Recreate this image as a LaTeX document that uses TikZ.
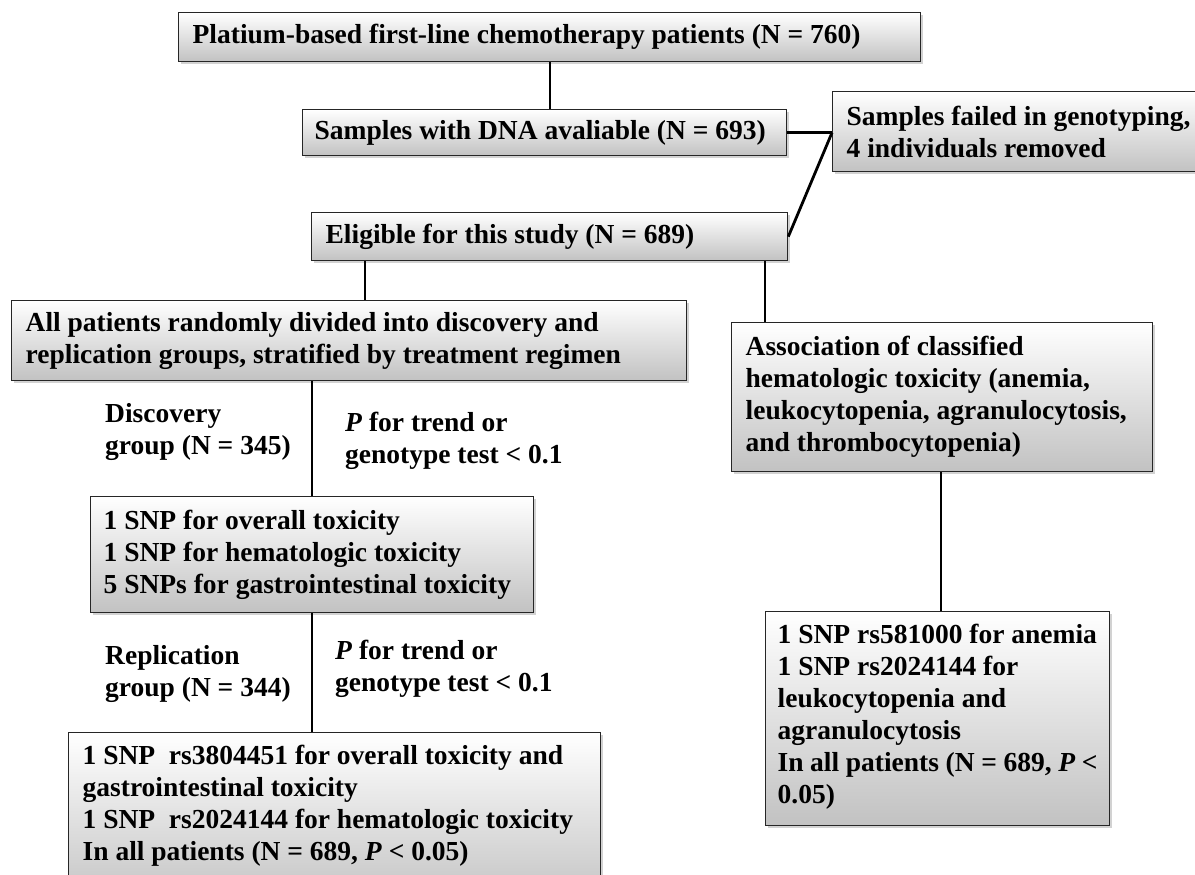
\documentclass[tikz,border=0pt]{standalone}
\usepackage{fontspec}
\setmainfont{Liberation Serif}
\usetikzlibrary{shadows}
\hyphenpenalty=10000
\exhyphenpenalty=10000
\begin{document}
\begin{tikzpicture}[x=1pt,y=1pt,
  font=\fontsize{27.5}{32}\selectfont\bfseries,
  box/.style={draw=black!85, line width=1.3pt, top color=white, bottom color=black!24,
    drop shadow={shadow xshift=2.5pt, shadow yshift=-2.5pt, opacity=0.35},
    align=flush left, anchor=north west, inner xsep=14pt, inner ysep=0pt},
  lbl/.style={align=flush left, anchor=north west, inner sep=0pt},
  conn/.style={line width=2.8pt, black}]
\useasboundingbox (0,0) rectangle (1195,-875);
\fill[white] (0,0) rectangle (1195,-875);
\clip (0,0) rectangle (1195,-875);

\node[box, text width=714pt, minimum height=49pt] (b1) at (178,-12) {Platium-based first-line chemotherapy patients (N = 760)};
\node[box, text width=460pt, minimum height=46pt, inner xsep=12pt] (b2) at (302,-109) {Samples with DNA avaliable (N = 693)};
\node[box, text width=372pt, minimum height=80pt] (b3) at (832,-91) {Samples failed in genotyping,\\4 individuals removed};
\node[box, text width=448pt, minimum height=48pt] (b4) at (311,-212) {Eligible for this study (N = 689)};
\node[box, text width=647pt, minimum height=80pt] (b5) at (11,-300) {All patients randomly divided into discovery and\\replication groups, stratified by treatment regimen};
\node[box, text width=393pt, minimum height=149pt] (b6) at (731,-322) {Association of classified\\hematologic toxicity (anemia,\\leukocytopenia, agranulocytosis,\\and thrombocytopenia)};
\node[box, text width=417pt, minimum height=116pt, inner xsep=13pt] (b7) at (90,-496) {1 SNP for overall toxicity\\1 SNP for hematologic toxicity\\5 SNPs for gastrointestinal toxicity};
\node[box, inner ysep=12pt, inner xsep=12pt] (b8) at (765,-611) {\parbox[c][190pt][t]{320pt}{\raggedright 1 SNP rs581000 for anemia\\1 SNP rs2024144 for\\leukocytopenia and\\agranulocytosis\\In all patients (N = 689, \textit{P} <\\0.05)}};
\node[box, inner ysep=12pt] (b9) at (68,-732) {\parbox[c][150pt][t]{504pt}{\raggedright 1 SNP\ \ rs3804451 for overall toxicity and\\gastrointestinal toxicity\\1 SNP\ \ rs2024144 for hematologic toxicity\\In all patients (N = 689, \textit{P} < 0.05)}};

\node[lbl] (l1) at (105,-403) {Discovery\\group (N = 345)};
\node[lbl] (l2) at (345,-412) {\textit{P} for trend or\\genotype test < 0.1};
\node[lbl] (l3) at (105,-645) {Replication\\group (N = 344)};
\node[lbl] (l4) at (335,-640) {\textit{P} for trend or\\genotype test < 0.1};

\coordinate (j) at (b3.west |- b2.east);
\draw[conn] (550,0 |- b1.south) -- (550,0 |- b2.north);
\draw[conn] (b2.east) -- (j);
\draw[conn] (j) -- (b4.east);
\draw[conn] (365,0 |- b4.south) -- (365,0 |- b5.north);
\draw[conn] (765,0 |- b4.south) -- (765,0 |- b6.north);
\draw[conn] (312,0 |- b5.south) -- (312,0 |- b7.north);
\draw[conn] (312,0 |- b7.south) -- (312,0 |- b9.north);
\draw[conn] (941,0 |- b6.south) -- (941,0 |- b8.north);
\end{tikzpicture}
\end{document}
